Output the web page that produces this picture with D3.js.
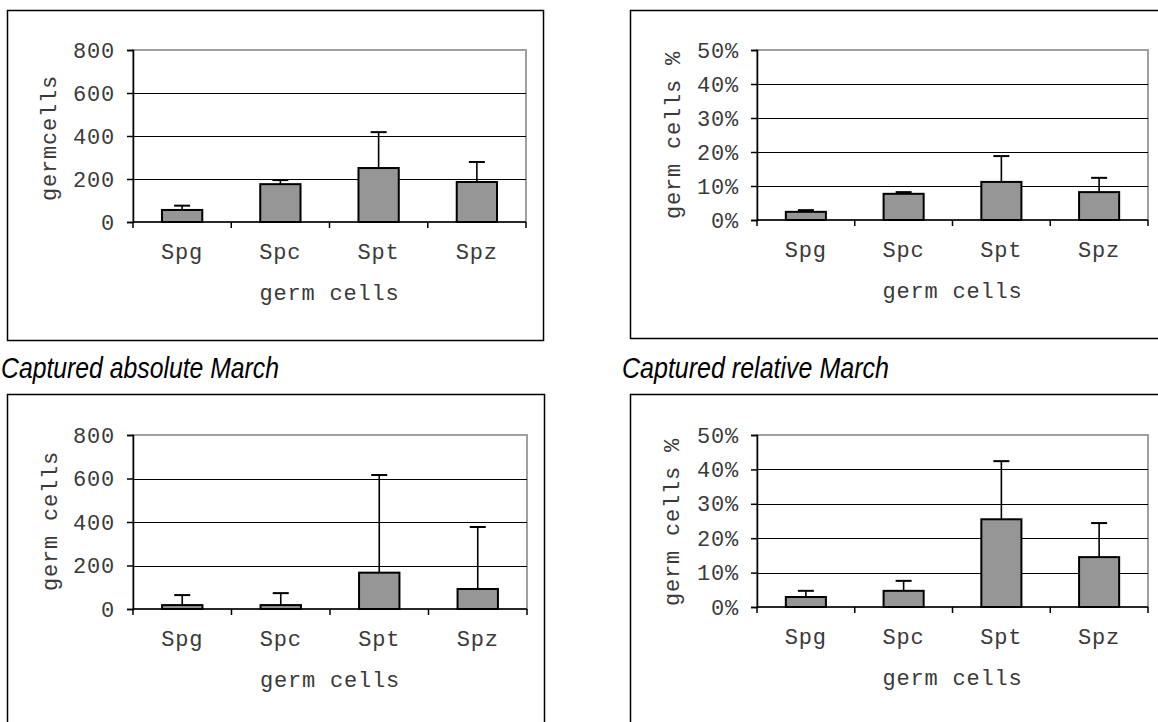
<!DOCTYPE html>
<html>
<head>
<meta charset="utf-8">
<script src="https://cdn.jsdelivr.net/npm/d3@7"></script>
<style>
  html, body { margin: 0; padding: 0; background: #fff; }
  svg { display: block; }
  .mono { font-family: "Liberation Mono", "Courier New", monospace; font-size: 22px; letter-spacing: 0.8px; fill: #3a3a3a; }
  .cap { font-family: "Liberation Sans", Arial, sans-serif; font-style: italic; font-size: 30px; fill: #000; }
</style>
</head>
<body>
<svg id="chart" width="1158" height="722"></svg>
<script>
// ---- data ----
const categories = ["Spg", "Spc", "Spt", "Spz"];

const absTicks = [0, 200, 400, 600, 800];
const relTicks = [0, 10, 20, 30, 40, 50];

// top-left: absolute counts
const topAbsMean = [56, 176, 251, 186];
const topAbsErr  = [20, 19, 167, 93];
// top-right: relative (%)
const topRelMean = [2.4, 7.7, 11.2, 8.2];
const topRelErr  = [0.5, 0.5, 7.6, 4.2];
// bottom-left: captured absolute March
const marchAbsMean = [18, 18, 167, 92];
const marchAbsErr  = [46, 55, 449, 285];
// bottom-right: captured relative March (%)
const marchRelMean = [2.9, 4.7, 25.5, 14.5];
const marchRelErr  = [1.8, 2.9, 16.9, 9.9];

const captions = ["Captured absolute March", "Captured relative March"];

// ---- layout ----
const panels = [
  { box: [7.5, 10.5, 536, 330], plot: { l: 133, r: 526, t: 50, b: 222 },
    mean: topAbsMean, err: topAbsErr, ticks: absTicks, max: 800, pct: false,
    ytitle: "germcells", ytx: 56, yty: 138 },
  { box: [630.5, 10.5, 560, 328], plot: { l: 757, r: 1148, t: 50, b: 220 },
    mean: topRelMean, err: topRelErr, ticks: relTicks, max: 50, pct: true,
    ytitle: "germ cells %", ytx: 680, yty: 135 },
  { box: [7.5, 394.5, 537, 360], plot: { l: 133, r: 527, t: 435, b: 609 },
    mean: marchAbsMean, err: marchAbsErr, ticks: absTicks, max: 800, pct: false,
    ytitle: "germ cells", ytx: 57, yty: 521 },
  { box: [630.5, 394.5, 560, 360], plot: { l: 757, r: 1148, t: 435, b: 607 },
    mean: marchRelMean, err: marchRelErr, ticks: relTicks, max: 50, pct: true,
    ytitle: "germ cells %", ytx: 679, yty: 522 }
];

const svg = d3.select("#chart");

panels.forEach(p => {
  const g = svg.append("g");
  const P = p.plot;

  // outer chart box
  g.append("rect")
    .attr("x", p.box[0]).attr("y", p.box[1])
    .attr("width", p.box[2]).attr("height", p.box[3])
    .attr("fill", "none").attr("stroke", "#000").attr("stroke-width", 1.5);

  const x = d3.scaleBand().domain(categories).range([P.l, P.r]).padding(0);
  const y = d3.scaleLinear().domain([0, p.max]).range([P.b, P.t]);

  // plot area border (gray)
  g.append("rect")
    .attr("x", P.l).attr("y", P.t)
    .attr("width", P.r - P.l).attr("height", P.b - P.t)
    .attr("fill", "none").attr("stroke", "#a0a0a0").attr("stroke-width", 2);

  // gridlines
  g.selectAll(".grid").data(p.ticks.filter(t => t > 0 && t < p.max)).enter()
    .append("line")
    .attr("x1", P.l).attr("x2", P.r)
    .attr("y1", d => Math.round(y(d)) + 0.5).attr("y2", d => Math.round(y(d)) + 0.5)
    .attr("stroke", "#000").attr("stroke-width", 1);

  // y axis
  const yAxis = d3.axisLeft(y).tickValues(p.ticks).tickSize(6)
    .tickFormat(d => p.pct ? d + "%" : String(d));
  const ya = g.append("g").attr("transform", `translate(${P.l},0)`).call(yAxis);
  ya.attr("font-size", null).attr("font-family", null);
  ya.select(".domain").attr("stroke", "#000").attr("stroke-width", 1.5);
  ya.selectAll(".tick line").attr("stroke", "#000").attr("stroke-width", 1.5);
  ya.selectAll(".tick text").attr("class", "mono").attr("x", -18).attr("dy", "0.32em").attr("fill", null);

  // x axis (ticks at category boundaries)
  const bounds = categories.map(c => x(c)).concat([P.r]);
  g.append("line").attr("x1", P.l).attr("x2", P.r).attr("y1", P.b).attr("y2", P.b)
    .attr("stroke", "#000").attr("stroke-width", 1.5);
  g.selectAll(".xt").data(bounds).enter().append("line")
    .attr("x1", d => d).attr("x2", d => d)
    .attr("y1", P.b).attr("y2", P.b + 6)
    .attr("stroke", "#000").attr("stroke-width", 1.5);
  g.selectAll(".xl").data(categories).enter().append("text")
    .attr("class", "mono")
    .attr("x", d => x(d) + x.bandwidth() / 2).attr("y", P.b + 36.5)
    .attr("text-anchor", "middle").text(d => d);

  // bars
  const bw = x.bandwidth() * 0.41;
  const rows = categories.map((c, i) => ({ c, v: p.mean[i], e: p.err[i] }));
  g.selectAll(".bar").data(rows).enter().append("rect")
    .attr("x", d => x(d.c) + (x.bandwidth() - bw) / 2)
    .attr("y", d => y(d.v))
    .attr("width", bw)
    .attr("height", d => y(0) - y(d.v))
    .attr("fill", "#969696").attr("stroke", "#000").attr("stroke-width", 2);

  // error bars (upper only)
  const eg = g.selectAll(".err").data(rows).enter().append("g");
  eg.append("line")
    .attr("x1", d => x(d.c) + x.bandwidth() / 2).attr("x2", d => x(d.c) + x.bandwidth() / 2)
    .attr("y1", d => y(d.v)).attr("y2", d => y(d.v + d.e))
    .attr("stroke", "#000").attr("stroke-width", 1.6);
  eg.append("line")
    .attr("x1", d => x(d.c) + x.bandwidth() / 2 - 8).attr("x2", d => x(d.c) + x.bandwidth() / 2 + 8)
    .attr("y1", d => y(d.v + d.e)).attr("y2", d => y(d.v + d.e))
    .attr("stroke", "#000").attr("stroke-width", 2);

  // titles
  g.append("text").attr("class", "mono")
    .attr("x", (P.l + P.r) / 2).attr("y", P.b + 78)
    .attr("text-anchor", "middle").text("germ cells");
  g.append("text").attr("class", "mono")
    .attr("transform", `translate(${p.ytx},${p.yty}) rotate(-90)`)
    .attr("text-anchor", "middle").text(p.ytitle);
});

// captions
svg.append("text").attr("class", "cap").attr("x", 1).attr("y", 378)
  .attr("textLength", 278).attr("lengthAdjust", "spacingAndGlyphs").text(captions[0]);
svg.append("text").attr("class", "cap").attr("x", 622).attr("y", 378)
  .attr("textLength", 267).attr("lengthAdjust", "spacingAndGlyphs").text(captions[1]);
</script>
</body>
</html>
